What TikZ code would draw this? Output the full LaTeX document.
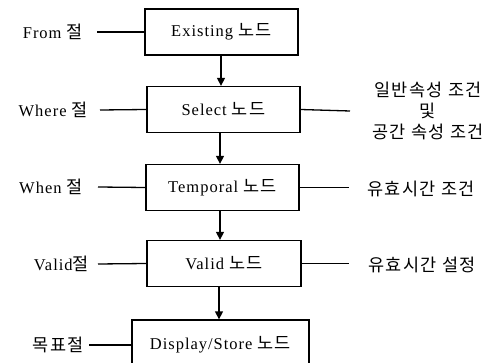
\documentclass[tikz,border=0pt]{standalone}
\usepackage{fontspec}
\setmainfont{Liberation Serif}[LetterSpace=6]
\newfontfamily\korf{Noto Sans CJK KR}[LetterSpace=8]
\newcommand\kor{\fontsize{17.5}{19}\korf}
\usetikzlibrary{arrows.meta}
\tikzset{
  box/.style={draw, line width=1.3pt, minimum height=46pt, inner sep=0pt},
  lab/.style={inner sep=0pt, font=\fontsize{16.5}{19}\selectfont},
  klab/.style={inner sep=0pt, font=\kor},
  conn/.style={line width=1.3pt},
  flow/.style={line width=1.3pt, -{Triangle[width=8pt,length=8pt]}},
}
\begin{document}
\begin{tikzpicture}[x=1pt,y=-1pt]
\useasboundingbox[fill=white] (0,0) rectangle (492,363);
% boxes
\node[box, lab, minimum width=153pt] (e) at (221.5,32) {Existing\hspace{5pt}{\kor 노드}};
\node[box, lab, minimum width=153pt] (s) at (223.5,109.5) {Select\hspace{5pt}{\kor 노드}};
\node[box, lab, minimum width=153pt] (t) at (222.5,187.5) {Temporal\hspace{5pt}{\kor 노드}};
\node[box, lab, minimum width=154pt] (v) at (224,263.5) {Valid\hspace{5pt}{\kor 노드}};
\node[box, lab, minimum width=177pt, minimum height=50pt] (d) at (220.5,345) {Display/Store\hspace{5pt}{\kor 노드}};
% flow arrows
\draw[flow] (e.south -| 221,0) -- (s.north -| 221,0);
\draw[flow] (s.south -| 220,0) -- (t.north -| 220,0);
\draw[flow] (t.south -| 220,0) -- (v.north -| 220,0);
\draw[flow] (v.south -| 219,0) -- (d.north -| 219,0);
% left labels
\node[lab, anchor=east] (lf) at (83,32) {From {\kor 절}};
\node[lab, anchor=east] (lw) at (88,110) {Where {\kor 절}};
\node[lab, anchor=east] (lh) at (83,187) {When {\kor 절}};
\node[lab, anchor=east] (lv) at (89,264) {Valid{\kor 절}};
\node[klab, anchor=east] (lm) at (84,345) {목표절};
\draw[conn] ([xshift=14pt]lf.east) -- (e.west);
\draw[conn] ([xshift=12pt]lw.east) -- (s.west);
\draw[conn] ([xshift=15pt]lh.east) -- (t.west);
\draw[conn] ([xshift=9pt]lv.east) -- (v.west);
\draw[conn] ([xshift=5pt]lm.east) -- (d.west);
% right labels
\node[klab, anchor=center, align=center] (rs) at (428,111) {일반속성 조건\\[2pt]및\\[2pt]공간 속성 조건};
\node[klab, anchor=west] (rt) at (367,189) {유효시간 조건};
\node[klab, anchor=west] (rv) at (368,265) {유효시간 설정};
\draw[conn] (s.east) -- (350,111);
\draw[conn] (t.east) -- ([xshift=-18pt]rt.west |- t.east);
\draw[conn] (v.east) -- ([xshift=-19pt]rv.west |- v.east);
\end{tikzpicture}
\end{document}
